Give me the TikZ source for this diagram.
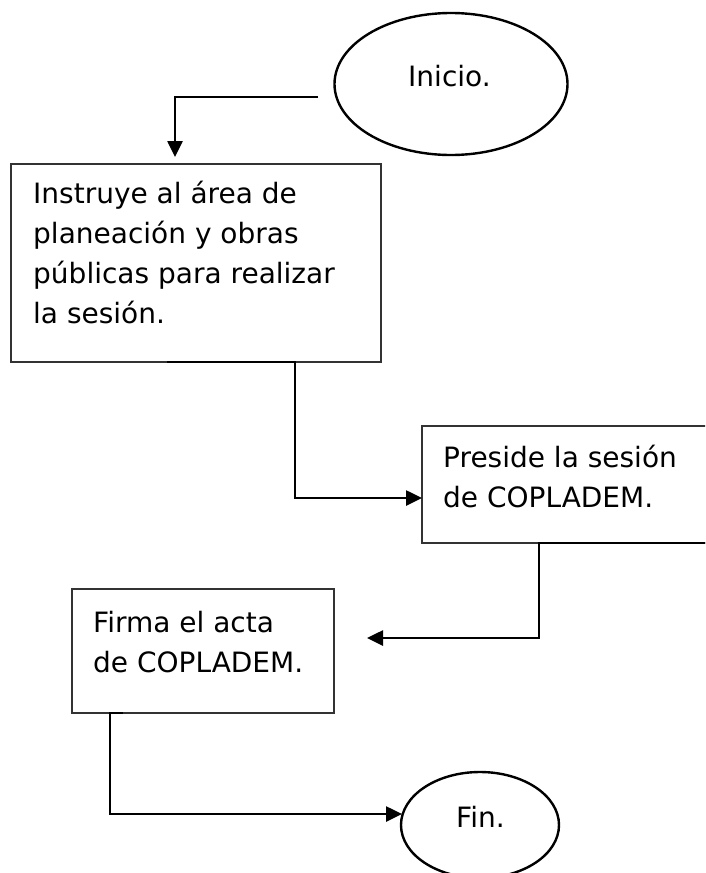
\documentclass[tikz,border=0pt]{standalone}
\usepackage{fontspec}
\setmainfont{DejaVu Sans}
\usetikzlibrary{shapes.geometric,arrows.meta}

\tikzset{
    box/.style={draw=black!80, line width=1.5pt, rectangle, inner sep=0pt},
    startend/.style={draw, line width=2.4pt, ellipse, inner sep=0pt},
    txt/.style={anchor=base west, inner sep=0pt, align=left,
        font=\fontsize{28}{40}\selectfont},
    flow/.style={line width=2.6pt, -{Triangle[length=16pt,width=15pt]}},
}

\begin{document}
\begin{tikzpicture}[x=1pt,y=-1pt]
        \useasboundingbox (0,0) rectangle (705,873);
        \clip (0,0) rectangle (705,873);
        % shapes
        \node [startend, minimum width=233pt, minimum height=142pt] (inicio) at (451,84) {};
        \node [box, minimum width=370pt, minimum height=198pt] (instruye) at (196,263) {};
        \node [box, minimum width=338pt, minimum height=117pt] (preside) at (591,484.5) {};
        \node [box, minimum width=262pt, minimum height=124pt] (firma) at (203,651) {};
        \node [startend, minimum width=158pt, minimum height=106pt] (fin) at (480,825) {};
        % texts (base = last line)
        \node [txt] (inicio-t) at (408,86) {Inicio.};
        \node [txt] (instruye-t) at (33,323) {Instruye al área de\\planeación y obras\\públicas para realizar\\la sesión.};
        \node [txt] (preside-t) at (443,507) {Preside la sesión\\de COPLADEM.};
        \node [txt] (firma-t) at (93,672) {Firma el acta\\de COPLADEM.};
        \node [txt] (fin-t) at (456,827) {Fin.};
        % connectors
        \coordinate (a1) at (318,97);
        \coordinate (a2) at (175,157);
        \draw [flow] (a1) -| (a2);
        \coordinate (b1) at (167,362);
        \coordinate (b2) at (295,362);
        \coordinate (b3) at (422,498);
        \draw [flow] (b1) -- (b2) |- (b3);
        \coordinate (c1) at (720,543);
        \coordinate (c2) at (539,543);
        \coordinate (c3) at (367,638);
        \draw [flow] (c1) -- (c2) |- (c3);
        \coordinate (d1) at (123,713);
        \coordinate (d2) at (110,713);
        \coordinate (d3) at (402,814);
        \draw [flow] (d1) -- (d2) |- (d3);
    \end{tikzpicture}
\end{document}
